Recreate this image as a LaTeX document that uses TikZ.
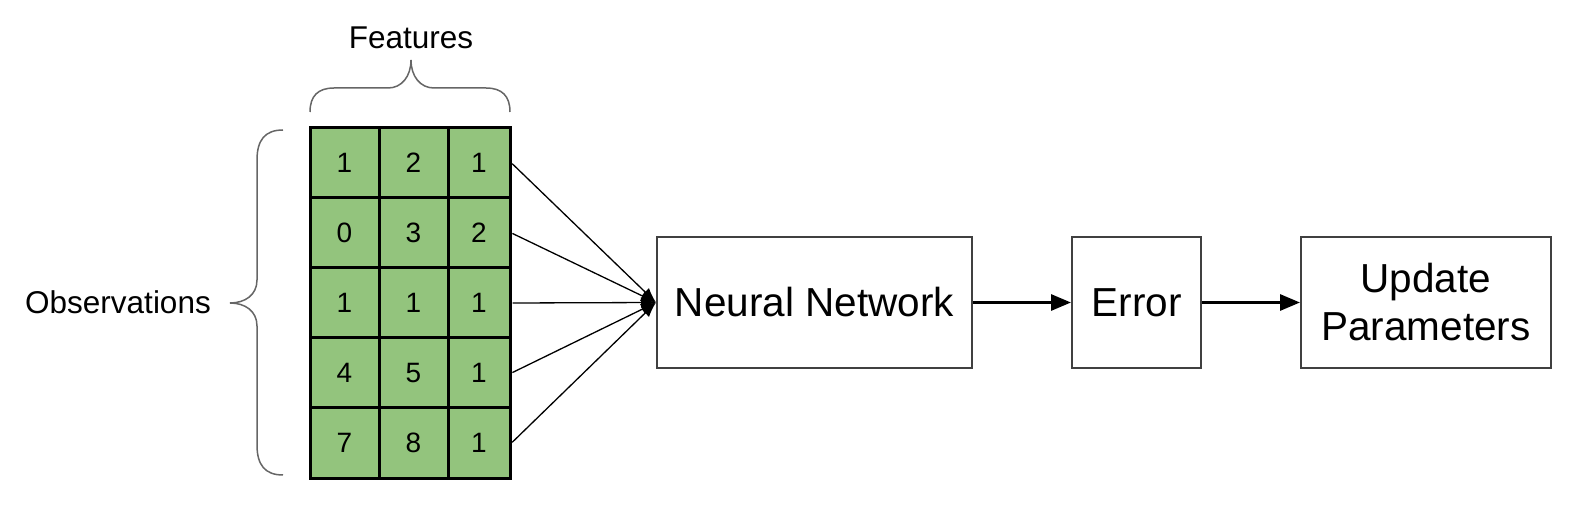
\documentclass[tikz,border=0pt]{standalone}
\usepackage{fontspec}
\setmainfont{Liberation Sans}
\usetikzlibrary{arrows.meta,positioning}
\definecolor{cellgreen}{RGB}{147,196,125}

\begin{document}
\begin{tikzpicture}[
        x=1pt, y=-1pt,
        node distance=98pt,
        cell/.style={draw, line width=3pt, fill=cellgreen, minimum height=70pt, inner sep=0pt, font=\fontsize{28}{33}\selectfont},
        stepbox/.style={draw=black!75, line width=2pt, minimum height=131pt, align=center, inner sep=0pt, font=\fontsize{40.5}{48}\selectfont},
        bracket/.style={draw=black!60, line width=1.5pt},
        sidetext/.style={font=\fontsize{31.5}{38}\selectfont},
        fan/.style={-{Latex[length=15pt,width=11pt]}, line width=1.3pt},
        arr/.style={-{Triangle[length=20pt,width=16pt]}, line width=3pt}
      ]
        \useasboundingbox (0,0) rectangle (1580,510);
        % data grid
        \foreach \r/\a/\b/\c [count=\i] in {163/1/2/1, 233/0/3/2, 303/1/1/1, 373/4/5/1, 443/7/8/1} {
          \node[cell, minimum width=69pt] (v\i1) at (344.5,\r) {\a};
          \node[cell, minimum width=69pt] (v\i2) at (413.5,\r) {\b};
          \node[cell, minimum width=62pt] (v\i3) at (479,\r) {\c};
        }
        % braces and their texts
        \draw[bracket] (310,112) .. controls (310,96) and (318,88) .. (334,88) -- (388,88)
          .. controls (402,88) and (411,76) .. (411,60) .. controls (411,76) and (420,88) .. (434,88)
          -- (486,88) .. controls (502,88) and (510,96) .. (510,112);
        \draw[bracket] (283,130) .. controls (265,130) and (257,140) .. (257,160) -- (257,280)
          .. controls (257,295) and (245,303) .. (230,303) .. controls (245,303) and (257,311) .. (257,326)
          -- (257,445) .. controls (257,465) and (265,475) .. (283,475);
        \node[sidetext] (feat) at (411,38) {Features};
        \node[sidetext] (obs) at (118,302) {Observations};
        % pipeline
        \node[stepbox, minimum width=315pt] (nn) at (814.5,302.5) {Neural Network};
        \node[stepbox, minimum width=129pt, right=of nn] (err) {Error};
        \node[stepbox, minimum width=250pt, right=of err] (upd) {Update\\Parameters};
        \foreach \i in {1,...,5} {
          \draw[fan, shorten <=1pt] (v\i3.east) -- (nn.west);
        }
        \draw[arr] (nn) -- (err);
        \draw[arr] (err) -- (upd);
      \end{tikzpicture}
\end{document}
